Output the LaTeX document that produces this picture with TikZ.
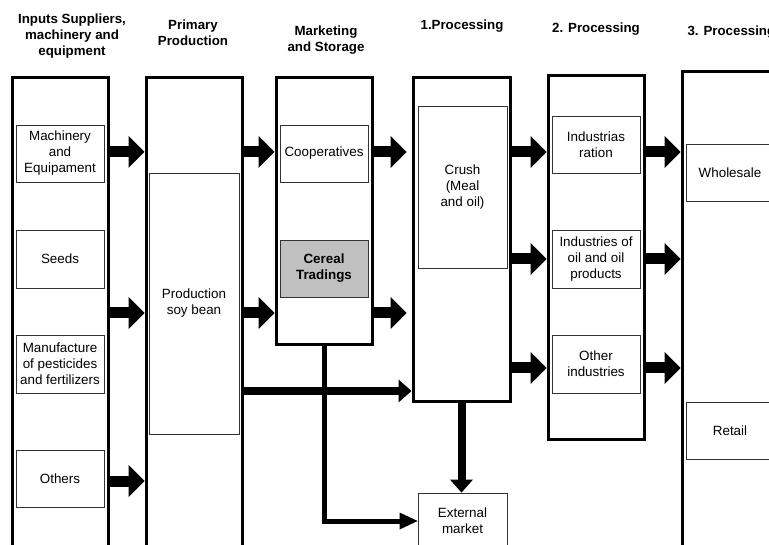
\documentclass[tikz,border=0pt]{standalone}
\usepackage{fontspec}
\setmainfont{Liberation Sans}
\usetikzlibrary{arrows.meta}
\definecolor{tradegray}{RGB}{192,192,192}
\tikzstyle{column} = [rectangle, draw=black, line width=3pt, inner sep=0pt, minimum width=96pt]
\tikzstyle{item} = [rectangle, draw=black!80, line width=0.8pt, inner sep=0pt, minimum width=88pt, minimum height=57pt, align=center, font=\fontsize{13.4}{16}\selectfont]
\tikzstyle{title} = [align=center, font=\bfseries\fontsize{13.3}{16}\selectfont]
\tikzstyle{bigarrow} = [line width=11pt, -{Triangle[length=16pt,width=32pt,line width=0pt]}]
\tikzstyle{midarrow} = [line width=8pt, -{Triangle[length=13pt,width=23pt,line width=0pt]}]
\tikzstyle{thinarrow} = [line width=5pt, -{Triangle[length=18pt,width=17pt,line width=0pt]}]

\begin{document}
\begin{tikzpicture}
[x=1pt, y=-1pt]
\useasboundingbox (0,0) rectangle (769,545);
\clip (0,0) rectangle (769,545);

\node (h1) [title] at (72,36) {Inputs Suppliers,\\ machinery and\\ equipment};
\node (h2) [title] at (193,33) {Primary\\ Production};
\node (h3) [title] at (326,40) {Marketing\\ and Storage};
\node (h4) [title] at (462,26) {1.Processing};
\node (h5) [title] at (596,29) {2. Processing};
\node (h6) [title, anchor=west] at (684,32) {3. Processing};

\node (inputs) [column, minimum height=522pt] at (60,339) {};
\node (primary) [column, minimum height=522pt] at (194,339) {};
\node (market) [column, minimum height=267pt] at (324,211.5) {};
\node (proc1) [column, minimum width=97pt, minimum height=324pt] at (461.5,240) {};
\node (proc2) [column, minimum height=364pt] at (596,258) {};
\node (proc3) [column, minimum width=118pt, minimum height=528pt] at (741,336) {};

\node (machinery) [item] at (60,153.5) {Machinery\\ and\\ Equipament};
\node (seeds) [item, minimum height=58pt] at (60,259) {Seeds};
\node (pesticides) [item, minimum height=58pt] at (60,364) {Manufacture\\ of pesticides\\ and fertilizers};
\node (others) [item] at (60,478.5) {Others};
\node (soybean) [item, minimum width=90pt, minimum height=261pt] at (194,303.5) {Production\\ soy bean};
\node (coop) [item] at (324,153.5) {Cooperatives};
\node (cereal) [item, fill=tradegray, font=\bfseries\fontsize{13.4}{16}\selectfont] at (324,268.5) {Cereal\\ Tradings};
\node (crush) [item, minimum width=89pt, minimum height=162pt] at (462.5,187) {Crush\\ (Meal\\ and oil)};
\node (external) [item, minimum width=89pt, minimum height=56pt] at (462.5,521) {External\\ market};
\node (ration) [item] at (596,144.5) {Industrias\\ ration};
\node (oilind) [item, minimum height=58pt] at (596,259) {Industries of\\ oil and oil\\ products};
\node (otherind) [item, minimum height=58pt] at (596,364) {Other\\ industries};
\node (wholesale) [item] at (730,173) {Wholesale};
\node (retail) [item] at (730,430.5) {Retail};

\coordinate (row1) at (0,152);
\coordinate (row2) at (0,313);
\coordinate (row3) at (0,481);
\coordinate (row4) at (0,391);
\coordinate (row5) at (0,259);
\coordinate (row6) at (0,368);

\draw [bigarrow] (inputs.east |- row1) -- (primary.west |- row1);
\draw [bigarrow] (inputs.east |- row2) -- (primary.west |- row2);
\draw [bigarrow] (inputs.east |- row3) -- (primary.west |- row3);
\draw [bigarrow] (primary.east |- row1) -- (market.west |- row1);
\draw [bigarrow] (primary.east |- row2) -- (market.west |- row2);
\draw [bigarrow, shorten >=5pt] (market.east |- row1) -- (proc1.west |- row1);
\draw [bigarrow, shorten >=5pt] (market.east |- row2) -- (proc1.west |- row2);
\draw [bigarrow] (proc1.east |- row1) -- (proc2.west |- row1);
\draw [bigarrow] (proc1.east |- row5) -- (proc2.west |- row5);
\draw [bigarrow] (proc1.east |- row6) -- (proc2.west |- row6);
\draw [bigarrow] (proc2.east |- row1) -- (proc3.west |- row1);
\draw [bigarrow] (proc2.east |- row5) -- (proc3.west |- row5);
\draw [bigarrow] (proc2.east |- row6) -- (proc3.west |- row6);
\draw [midarrow] (primary.east |- row4) -- (proc1.west |- row4);
\draw [midarrow] (proc1.south) -- (proc1.south |- external.north);
\draw [thinarrow] (market.south) |- (external.west);
\end{tikzpicture}
\end{document}
